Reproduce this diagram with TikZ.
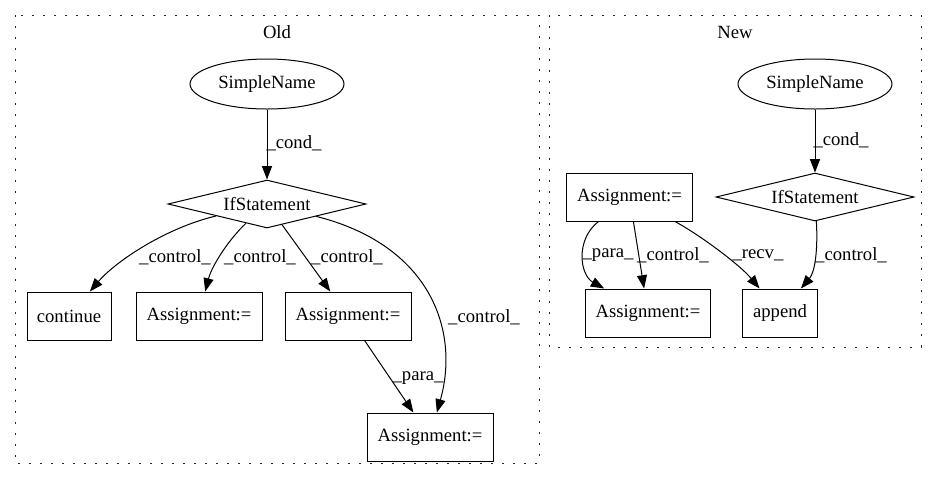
\documentclass[tikz,border=0pt]{standalone}
\usepackage{fontspec}
\setmainfont{Liberation Serif}
\usetikzlibrary{shapes.geometric,arrows.meta}
\begin{document}
\begin{tikzpicture}[x=0.75pt,y=-0.75pt,
  every node/.style={font=\fontsize{14pt}{16pt}\selectfont},
  cluster/.style={draw=black!85, line width=0.75pt, dash pattern=on 1.2pt off 7.05pt},
  ell/.style={draw, ellipse, line width=0.75pt, minimum width=115.5pt, minimum height=37.5pt, inner sep=0pt},
  dia/.style={draw, diamond, aspect=4.1, line width=0.75pt, minimum width=148.5pt, minimum height=36pt, inner sep=0pt},
  box/.style={draw, rectangle, line width=0.75pt, minimum height=36pt, inner sep=0pt},
  edge/.style={line width=0.75pt, -{Triangle[length=10pt,width=7.5pt]}},
  lbl/.style={inner sep=0pt}]
\useasboundingbox (0,0) rectangle (940,480);
% clusters
\draw[cluster] (15,15) rectangle (539,463);
\draw[cluster] (549,15) rectangle (921,347);
\node[lbl] (tOld) at (277,32) {Old};
\node[lbl] (tNew) at (735,32) {New};
% Old nodes
\node[ell] (sn1) at (267,84) {SimpleName};
\node[dia] (if1) at (267,204) {IfStatement};
\node[box, minimum width=63pt] (cont) at (69,316) {continue};
\node[box, minimum width=94.5pt] (a1) at (199,316) {Assignment:=};
\node[box, minimum width=94.5pt] (a2) at (348,316) {Assignment:=};
\node[box, minimum width=94.5pt] (a3) at (430,437) {Assignment:=};
% Old edges
\draw[edge] (sn1) -- (if1);
\draw[edge] (if1) .. controls (165,228) and (115,262) .. (cont);
\draw[edge] (if1) .. controls (230,238) and (212,265) .. (a1);
\draw[edge] (if1) -- (a2);
\draw[edge] (if1) .. controls (430,245) and (460,330) .. (a3);
\draw[edge] (a2) -- (a3);
% Old labels
\node[lbl] (lc1) at (294,143) {\_cond\_};
\node[lbl] (l1) at (175,257) {\_control\_};
\node[lbl] (l2) at (260,257) {\_control\_};
\node[lbl] (l3) at (347,257) {\_control\_};
\node[lbl] (l4) at (484,317) {\_control\_};
\node[lbl] (l5) at (418,378) {\_para\_};
% New nodes
\node[ell] (sn2) at (815,84) {SimpleName};
\node[dia] (if2) at (815,197) {IfStatement};
\node[box, minimum width=94pt] (a4) at (629.5,197) {Assignment:=};
\node[box, minimum width=94pt] (a5) at (648,313) {Assignment:=};
\node[box, minimum width=56pt] (app) at (780,313) {append};
% New edges
\draw[edge] (sn2) -- (if2);
\draw[edge] (a4) .. controls (575,240) and (580,275) .. (a5);
\draw[edge] (a4) -- (a5);
\draw[edge] (a4) .. controls (700,235) and (740,265) .. (app);
\draw[edge] (if2) .. controls (818,250) and (815,272) .. (app);
% New labels
\node[lbl] (lc2) at (841,140) {\_cond\_};
\node[lbl] (l6) at (608,255) {\_para\_};
\node[lbl] (l7) at (673,255) {\_control\_};
\node[lbl] (l8) at (758,255) {\_recv\_};
\node[lbl] (l9) at (851,255) {\_control\_};
\end{tikzpicture}
\end{document}
